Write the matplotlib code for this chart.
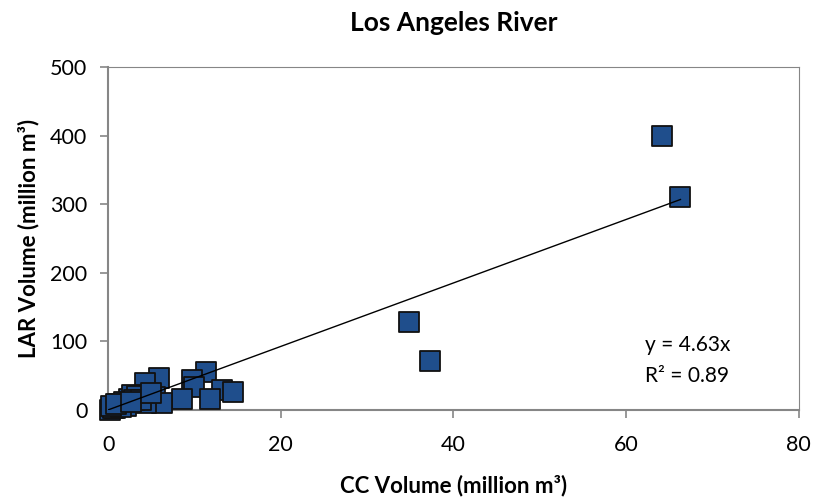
import numpy as np
import matplotlib.pyplot as plt

plt.rcParams['font.family'] = ['Lato', 'DejaVu Sans']

# CC vs LAR storm volumes (million m3)
cc_volume = [64.2, 66.3, 34.8, 37.3, 11.3, 5.9, 4.3, 9.7, 9.9, 13.2, 14.5, 11.8,
             8.5, 5.4, 6.2, 0.2, 0.8, 2.4, 2.8, 3.3, 4.4, 1.2, 1.8, 0.5, 3.0,
             2.0, 1.5, 0.3, 0.9, 3.8, 2.6, 5.0]
lar_volume = [399, 310, 128, 71, 55, 46, 39, 44, 33, 29, 26, 16,
              16, 19, 10, 0, 3, 16, 22, 20, 10, 8, 12, 2, 14,
              6, 4, 5, 9, 15, 11, 24]
slope = 4.63
r_squared = 0.89

fig, ax = plt.subplots(figsize=(8.2, 4.98), dpi=100)
fig.subplots_adjust(left=0.132, right=0.974, top=0.865, bottom=0.177)

ax.scatter(cc_volume, lar_volume, marker='s', s=190, color='#1f4e8c',
           edgecolors='#111111', linewidths=1.3, zorder=3, clip_on=False)

fit_x = np.array([0, max(cc_volume)])
ax.plot(fit_x, slope * fit_x, color='black', linewidth=1.0, zorder=4)

ax.text(62.2, 95, f'y = {slope}x', fontsize=15, va='center')
ax.text(62.2, 50, f'R² = {r_squared}', fontsize=15, va='center')

ax.set_xlim(0, 80)
ax.set_ylim(0, 500)
ax.set_xticks([0, 20, 40, 60, 80])
ax.set_yticks([0, 100, 200, 300, 400, 500])
ax.tick_params(labelsize=15.5, color='#868686', length=6, width=1.2, pad=9)
ax.tick_params(axis='x', pad=12)
for side in ['left', 'bottom', 'top', 'right']:
    ax.spines[side].set_color('#868686')
ax.spines['left'].set_linewidth(1.5)
ax.spines['bottom'].set_linewidth(1.5)
ax.spines['top'].set_linewidth(0.8)
ax.spines['right'].set_linewidth(0.8)
ax.tick_params(axis='x', top=False)
ax.tick_params(axis='y', right=False)

ax.set_title('Los Angeles River', fontsize=19, fontweight='bold', pad=26)
ax.set_xlabel('CC Volume (million m³)', fontsize=16, fontweight='bold', labelpad=14)
ax.set_ylabel('LAR Volume (million m³)', fontsize=16, fontweight='bold', labelpad=8)

fig.savefig('out.png')
